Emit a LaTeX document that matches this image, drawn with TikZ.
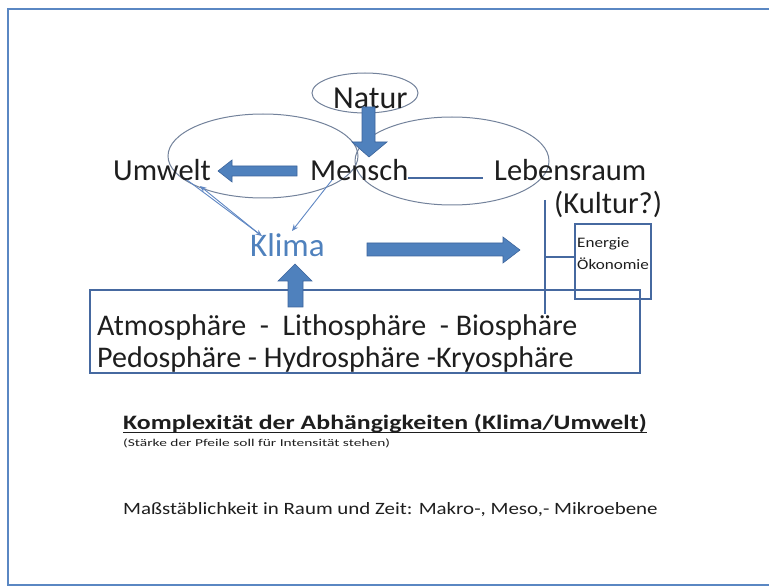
\documentclass[tikz,border=0pt]{standalone}
\usepackage{fontspec}
\setmainfont{Carlito}
\newfontfamily\smallwide[FakeStretch=1.18]{Carlito}
\newfontfamily\notewide[FakeStretch=1.47]{Carlito}
\newfontfamily\titlewide[FakeStretch=1.26]{Carlito}
\newfontfamily\masswide[FakeStretch=1.21]{Carlito}
\usetikzlibrary{arrows.meta,calc}
\definecolor{ablue}{RGB}{79,129,189}
\definecolor{aedge}{RGB}{60,100,155}
\definecolor{ell}{RGB}{115,130,155}
\definecolor{lin}{RGB}{70,105,160}
\definecolor{thin}{RGB}{95,135,195}
\definecolor{txt}{RGB}{30,30,30}
\definecolor{frame}{RGB}{90,135,195}
\begin{document}
\begin{tikzpicture}[x=1pt,y=-1pt,
  lbl/.style={anchor=base west,inner sep=0pt,text=txt,font=\fontsize{30.5}{32}\selectfont},
  klbl/.style={anchor=base west,inner sep=0pt,text=ablue,font=\fontsize{33}{35}\selectfont},
  small/.style={anchor=base west,inner sep=0pt,text=txt,font=\smallwide\fontsize{14.5}{15}\selectfont},
  ringline/.style={draw=ell,line width=1pt},
  boxline/.style={draw=lin,line width=1.2pt},
  joinline/.style={draw=lin,line width=2.2pt},
  blockarrow/.style={fill=ablue,draw=aedge,line width=0.6pt},
  thinarrow/.style={draw=thin,line width=0.9pt,-{Stealth[length=6.5pt,width=5.5pt]}}]
\useasboundingbox (0,0) rectangle (769,588);
% outer frame
\draw[frame,line width=2.4pt] (800,9) -- (8,9) -- (8,585) -- (800,585);
% ellipses
\draw[ringline] (263,156) ellipse [x radius=95,y radius=42];
\draw[ringline] (452,161) ellipse [x radius=97,y radius=44];
\draw[ringline] (365,93) ellipse [x radius=53,y radius=20];
% labels
\node[lbl,font=\fontsize{32}{34}\selectfont] (natur) at (333,109) {Natur};
\node[lbl] (umwelt) at (113,181) {Umwelt};
\node[lbl] (mensch) at (310,181) {Mensch};
\node[lbl] (lebensraum) at (494,181) {Lebensraum};
\node[lbl] (kultur) at (554,214) {(Kultur?)};
\node[klbl] (klima) at (250,257) {Klima};
% boxes
\draw[boxline] (575,224) rectangle (651,299);
\node[small] (energie) at (577,248) {Energie};
\node[small] (oekonomie) at (577,270) {Ökonomie};
\draw[boxline] (90,290) rectangle (640,373);
\node[lbl,font=\fontsize{30}{32}\selectfont] (atmo) at (97,336) {Atmosphäre \ - \ Lithosphäre \ - Biosphäre};
\node[lbl,font=\fontsize{30}{32}\selectfont] (pedo) at (97,367) {Pedosphäre - Hydrosphäre -Kryosphäre};
% connector lines
\coordinate (mr) at (408,178);
\coordinate (lr) at (483,178);
\draw[joinline] (mr) -- (lr);
\coordinate (vtop) at (545,200);
\coordinate (vbot) at (545,314);
\coordinate (vmid) at (545,257);
\draw[joinline] (vtop) -- (vbot);
\draw[draw=lin,line width=1.6pt] (vmid) -- (vmid -| 575,0);
% block arrows
\fill[blockarrow] (297,166) -- (232,166) -- (232,160) -- (218,171) -- (232,182) -- (232,176) -- (297,176) -- cycle;
\fill[blockarrow] (362,107) -- (362,142) -- (352,142) -- (369,157) -- (387,142) -- (375,142) -- (375,107) -- cycle;
\fill[blockarrow] (367,243) -- (503,243) -- (503,237) -- (520,250) -- (503,263) -- (503,256) -- (367,256) -- cycle;
\fill[blockarrow] (288,307) -- (288,281) -- (278,281) -- (295,264) -- (312,281) -- (303,281) -- (303,307) -- cycle;
% thin arrows
\coordinate (u1) at (187,180);
\coordinate (k1) at (262,236);
\coordinate (k2) at (258,233);
\coordinate (u2) at (200,186);
\coordinate (m1) at (332,180);
\coordinate (k3) at (292,231);
\draw[thinarrow] (u1) -- (k1);
\draw[thinarrow] (k2) -- (u2);
\draw[thinarrow] (m1) -- (k3);
% bottom texts
\node[anchor=base west,inner sep=0pt,text=txt,font=\titlewide\fontsize{20.5}{22}\selectfont\bfseries] (title) at (123,429) {Komplexität der Abhängigkeiten (Klima/Umwelt)};
\draw[txt,line width=1.3pt] ([yshift=-3.5pt]title.base west) -- ([yshift=-3.5pt]title.base east);
\node[anchor=base west,inner sep=0pt,text=txt,font=\notewide\fontsize{10.5}{11}\selectfont] (note) at (123,446) {(Stärke der Pfeile soll für Intensität stehen)};
\node[anchor=base west,inner sep=0pt,text=txt,font=\masswide\fontsize{17.3}{19}\selectfont] (mass) at (123,514) {Maßstäblichkeit in Raum und Zeit: Makro-, Meso,- Mikroebene};
\end{tikzpicture}
\end{document}
